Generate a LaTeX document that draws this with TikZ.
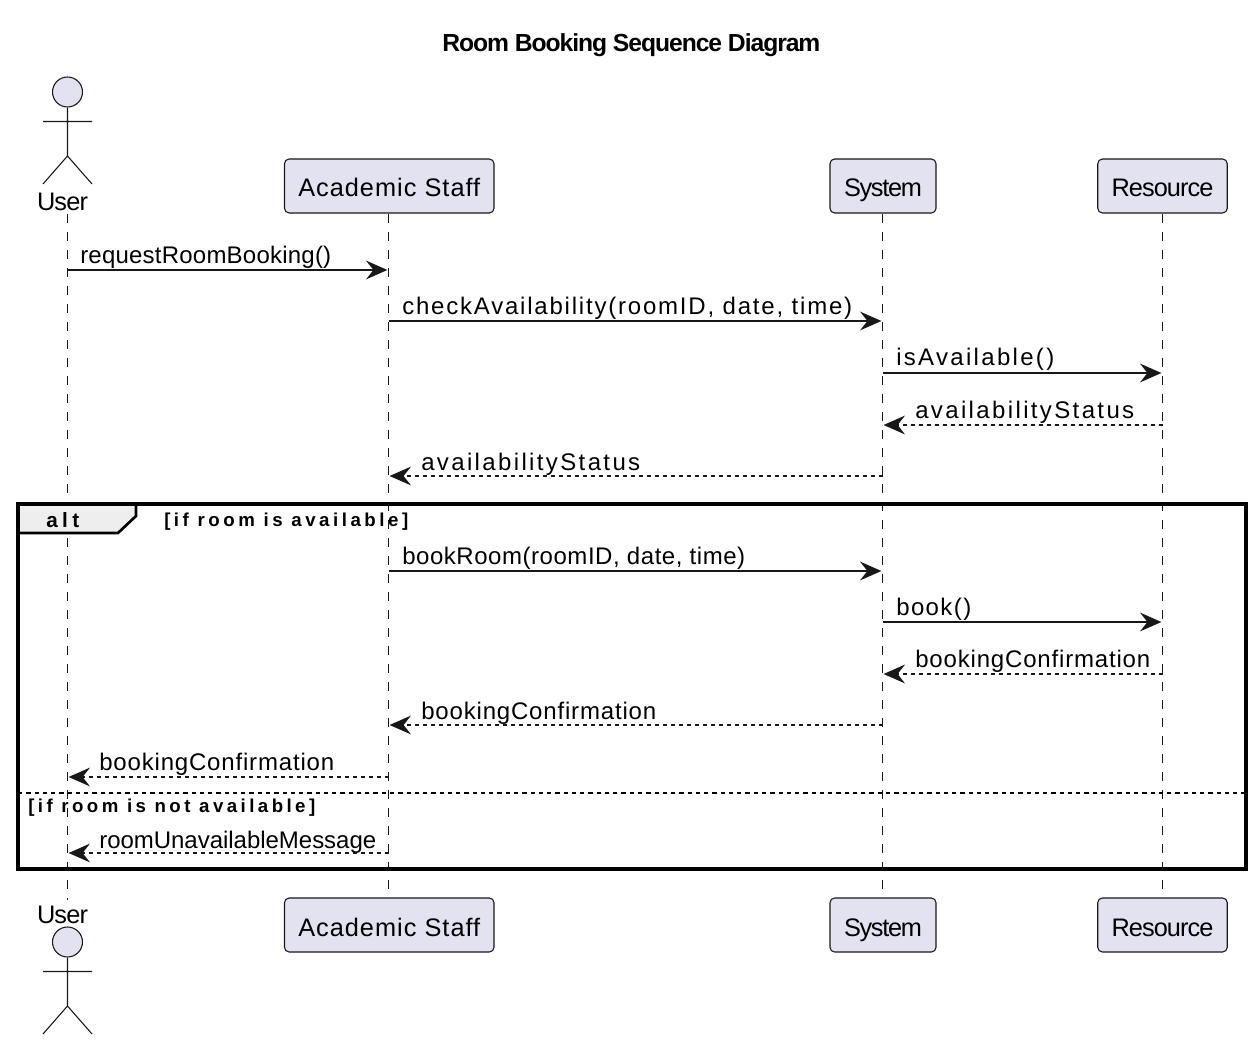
\documentclass[tikz,border=0pt]{standalone}
\usepackage{fontspec}
\setmainfont{Liberation Sans}
\usetikzlibrary{arrows.meta}
\definecolor{partfill}{HTML}{E2E2F0}
\definecolor{ink}{HTML}{181818}
\definecolor{tabfill}{HTML}{EEEEEE}
\newlength\fitlen
% #1 target width in px, #2 font size in pt, #3 weight cmd, #4 gaps between characters, #5 text
\newcommand\fittext[5]{%
  \fontsize{#2}{#2}\selectfont#3%
  \settowidth\fitlen{#5}%
  \pgfmathsetmacro\fitsp{(#1*0.75-\fitlen)/#2*100/#4}%
  \addfontfeature{LetterSpace=\fitsp}#5}
\tikzset{
  x=0.75pt,y=-0.75pt,
  life/.style={ink,line width=0.75pt,dash pattern=on 7pt off 6.5pt},
  partbox/.style={draw=ink,fill=partfill,rounded corners=3.5pt,line width=0.8pt,inner sep=0},
  parttext/.style={inner sep=0,anchor=base,text=black},
  msg/.style={ink,line width=1.4pt,-{Stealth[length=16pt,width=14pt,inset=5.5pt]},shorten >=0.8pt},
  ret/.style={msg,dash pattern=on 3pt off 3pt},
  lab/.style={inner sep=0,anchor=base west,text=black},
  actorline/.style={ink,line width=0.8pt},
  framebox/.style={black,line width=2.5pt},
}
\newcommand\actor[2]{% name prefix, head centre y
  \node[draw=ink,fill=partfill,circle,minimum size=22.5pt,inner sep=0,line width=0.8pt] (#1head) at (67.5,#2) {};
  \coordinate (#1hip) at (67.5,#2+64);
  \coordinate (#1la) at (43,#2+29.5);
  \coordinate (#1ra) at (92,#2+29.5);
  \coordinate (#1ll) at (43,#2+92);
  \coordinate (#1rl) at (92,#2+92);
  \draw[actorline] (#1head) -- (#1hip) (#1la) -- (#1ra) (#1ll) -- (#1hip) -- (#1rl);
}
\begin{document}
\begin{tikzpicture}
\useasboundingbox (0,0) rectangle (1260,1048);
\fill[white] (0,0) rectangle (1260,1048);
\node[lab] (title) at (442,52) {\fittext{375}{18.5}{\bfseries}{28}{Room Booking Sequence Diagram}};

% lifeline end points
\coordinate (uT) at (67.5,214); \coordinate (uB) at (67.5,900);
\coordinate (aT) at (388.5,214); \coordinate (aB) at (388.5,891);
\coordinate (sT) at (882.5,214); \coordinate (sB) at (882.5,891);
\coordinate (rT) at (1162.5,214); \coordinate (rB) at (1162.5,891);
\draw[life] (uT) -- (uB);
\draw[life] (aT) -- (aB);
\draw[life] (sT) -- (sB);
\draw[life] (rT) -- (rB);

% participants
\actor{top}{92}
\actor{bot}{942}
\node[parttext] (userT) at (62.5,211) {\fittext{51}{19}{}{3}{User}};
\node[parttext] (userB) at (62.5,923) {\fittext{51}{19}{}{3}{User}};
\foreach \n/\cx/\bw/\txt/\tw/\gaps in {aca/389.25/209.5/Academic Staff/183/13, sys/883/106/System/78/5, res/1162.5/129.5/Resource/102/7}{
  \node[partbox,minimum width=\bw*0.75pt,minimum height=40.5pt] (\n T) at (\cx,186) {};
  \node[parttext] (\n Tl) at (\cx,197) {\fittext{\tw}{19}{}{\gaps}{\txt}};
  \node[partbox,minimum width=\bw*0.75pt,minimum height=40.5pt] (\n B) at (\cx,925) {};
  \node[parttext] (\n Bl) at (\cx,936) {\fittext{\tw}{19}{}{\gaps}{\txt}};
}

% frame
\coordinate (fTL) at (18,504); \coordinate (fBR) at (1246,869);
\coordinate (fDivL) at (18,793); \coordinate (fDivR) at (1246,793);
\coordinate (tabA) at (136,504); \coordinate (tabB) at (136,516);
\coordinate (tabC) at (118,533); \coordinate (tabD) at (18,533);
\fill[tabfill] (fTL) -- (tabA) -- (tabB) -- (tabC) -- (tabD) -- cycle;
\draw[framebox] (fTL) rectangle (fBR);
\draw[black,line width=2pt] (tabA) -- (tabB) -- (tabC) -- (tabD);
\draw[black,line width=1.1pt,dash pattern=on 3.2pt off 3pt] (fDivL) -- (fDivR);
\node[lab] (altl) at (46,527) {\fittext{33}{15.5}{\bfseries}{2}{alt}};
\node[lab] (g1) at (164,526) {\fittext{244}{14}{\bfseries}{18}{[if room is available]}};
\node[lab] (g2) at (28,812) {\fittext{287}{14}{\bfseries}{21}{[if room is not available]}};

% messages
\foreach \i/\y in {1/270,2/321,3/373,4/425,5/476,6/571,7/622,8/674,9/725,10/777,11/853}
  \coordinate (row\i) at (0,\y);
\draw[msg] (uT |- row1) -- (aT |- row1);
\draw[msg] (aT |- row2) -- (sT |- row2);
\draw[msg] (sT |- row3) -- (rT |- row3);
\draw[ret] (rT |- row4) -- (sT |- row4);
\draw[ret] (sT |- row5) -- (aT |- row5);
\draw[msg] (aT |- row6) -- (sT |- row6);
\draw[msg] (sT |- row7) -- (rT |- row7);
\draw[ret] (rT |- row8) -- (sT |- row8);
\draw[ret] (sT |- row9) -- (aT |- row9);
\draw[ret] (aT |- row10) -- (uT |- row10);
\draw[ret] (aT |- row11) -- (uT |- row11);

\node[lab] (m1) at (80,264) {\fittext{251}{18}{}{19}{requestRoomBooking()}};
\node[lab] (m2) at (402,315) {\fittext{450}{18}{}{34}{checkAvailability(roomID, date, time)}};
\node[lab] (m3) at (896,366) {\fittext{158}{18}{}{12}{isAvailable()}};
\node[lab] (m4) at (915,418) {\fittext{219}{18}{}{17}{availabilityStatus}};
\node[lab] (m5) at (421,470) {\fittext{219}{18}{}{17}{availabilityStatus}};
\node[lab] (m6) at (402,564) {\fittext{343}{18}{}{25}{bookRoom(roomID, date, time)}};
\node[lab] (m7) at (896,615) {\fittext{75}{18}{}{5}{book()}};
\node[lab] (m8) at (915,667) {\fittext{235}{18}{}{18}{bookingConfirmation}};
\node[lab] (m9) at (421,719) {\fittext{235}{18}{}{18}{bookingConfirmation}};
\node[lab] (m10) at (99,770) {\fittext{235}{18}{}{18}{bookingConfirmation}};
\node[lab] (m11) at (99,848) {\fittext{277}{18}{}{21}{roomUnavailableMessage}};
\end{tikzpicture}
\end{document}
